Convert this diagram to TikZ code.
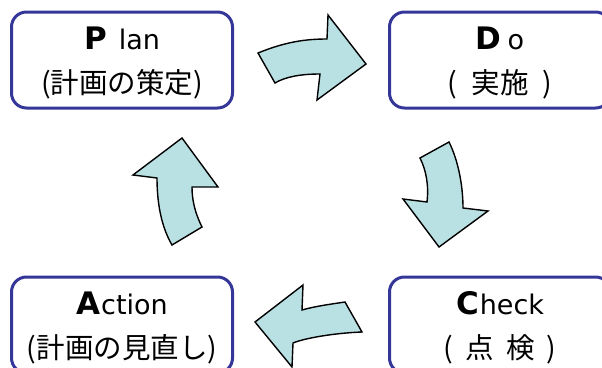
\documentclass[tikz,border=0pt]{standalone}
\usepackage{fontspec}
\setmainfont{Noto Sans CJK JP}
\newfontfamily\latinfont{DejaVu Sans}
\usetikzlibrary{positioning}
\definecolor{boxblue}{RGB}{52,54,152}
\definecolor{arrowcyan}{RGB}{185,224,227}
\newcommand{\capletter}[1]{{\latinfont\fontsize{31}{44}\selectfont\rule{0pt}{29pt}\bfseries #1}}
\newcommand{\restword}[1]{{\latinfont\fontsize{27}{44}\selectfont #1}}

\begin{document}
\begin{tikzpicture}[x=1pt, y=-1pt,
	phase/.style={draw=boxblue, line width=3pt, rounded corners=15pt, minimum width=221pt, minimum height=96pt, align=center, inner sep=0pt, font=\fontsize{28.5}{44}\selectfont},
	turn/.style={draw=black, line width=1.4pt, fill=arrowcyan, line join=miter}]
		\useasboundingbox (0,0) rectangle (602,367);
		\clip (0,0) rectangle (602,367);
		\node[phase] (plan) at (122,60) {\capletter{P}\hspace{12pt}\restword{lan}\\(計画の策定)};
		\node[phase] (do) [right=154pt of plan] {\capletter{D}\hspace{6pt}\restword{o}\\(\hspace{14pt}実施\hspace{14pt})};
		\node[phase] (check) [below=166pt of do] {\capletter{C}\hspace{1pt}\restword{heck}\\(\hspace{12pt}点\hspace{12pt}検\hspace{12pt})};
		\node[phase] (action) [left=154pt of check] {\capletter{A}\hspace{1pt}\restword{ction}\\(計画の見直し)};
		
		% cycle arrows
		\draw[turn] (258,53) .. controls (285,42) and (305,39) .. (327,39) -- (328,15) -- (366,64) -- (317,100) -- (320,74) .. controls (300,74) and (285,77) .. (275,83) -- cycle;
		\draw[turn] (449,142) .. controls (458,160) and (463,185) .. (463,208) -- (488,211) -- (439,247) -- (403,199) -- (427,202) .. controls (429,185) and (426,170) .. (420,158) -- cycle;
		\draw[turn] (345,302) .. controls (332,304) and (316,306) .. (302,310) -- (303,285) -- (255,322) -- (292,367) -- (293,343) .. controls (305,338) and (335,333) .. (362,332) -- cycle;
		\draw[turn] (202,227) .. controls (195,213) and (192,200) .. (192,187) -- (218,187) -- (182,138) -- (133,175) -- (157,178) .. controls (157,205) and (162,228) .. (172,245) -- cycle;
	\end{tikzpicture}
\end{document}
